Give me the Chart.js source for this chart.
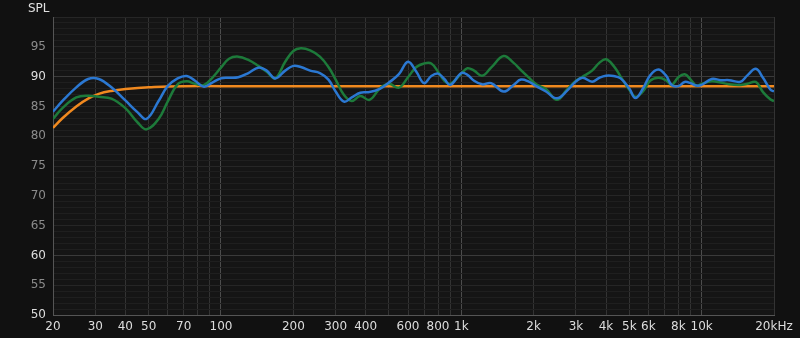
<!DOCTYPE html>
<html>
<head>
<meta charset="utf-8">
<script src="https://cdn.jsdelivr.net/npm/chart.js@4.4.1/dist/chart.umd.min.js"></script>
<style>
  html, body { margin: 0; padding: 0; background: #111111; }
  #wrap { width: 800px; height: 338px; position: relative; }
</style>
</head>
<body>
<div id="wrap"><canvas id="c" width="800" height="338"></canvas></div>
<script>
// ---- Data ----
const freqs = [20, 22, 25, 28, 31, 35, 40, 45, 49, 55, 60, 66, 72, 78, 85, 92, 100, 108, 118, 130, 143, 155, 168, 185, 200, 215, 235, 258, 280, 300, 325, 350, 380, 415, 460, 500, 550, 600, 650, 700, 750, 800, 850, 900, 1000, 1060, 1130, 1220, 1330, 1500, 1650, 1770, 1900, 2050, 2250, 2500, 2750, 3000, 3200, 3500, 3750, 4000, 4300, 4600, 5000, 5300, 5700, 6100, 6600, 7100, 7500, 8000, 8500, 9000, 9500, 10000, 11000, 12000, 13000, 14500, 15500, 16800, 18000, 19300, 20000];

const blueSPL = [84.1, 86.0, 88.2, 89.6, 89.6, 88.2, 86.0, 84.0, 82.9, 85.9, 88.4, 89.7, 90.1, 89.3, 88.3, 89.0, 89.7, 89.8, 89.9, 90.6, 91.5, 91.0, 89.7, 91.0, 91.8, 91.6, 91.0, 90.6, 89.5, 87.5, 85.8, 86.5, 87.3, 87.4, 88.0, 89.0, 90.4, 92.5, 90.8, 88.9, 90.1, 90.5, 89.6, 88.6, 90.6, 90.3, 89.3, 88.7, 88.9, 87.5, 88.6, 89.5, 89.2, 88.4, 87.5, 86.35, 87.6, 89.2, 89.8, 89.15, 89.8, 90.15, 90.1, 89.7, 88.0, 86.4, 88.0, 90.2, 91.2, 90.2, 88.6, 88.4, 89.1, 88.9, 88.5, 88.6, 89.6, 89.4, 89.4, 89.15, 90.2, 91.3, 89.8, 87.85, 87.5];

const greenSPL = [82.9, 84.8, 86.5, 86.8, 86.6, 86.3, 84.7, 82.3, 81.15, 82.9, 85.8, 88.7, 89.2, 88.8, 88.6, 89.8, 91.5, 93.0, 93.35, 92.8, 91.8, 90.8, 89.7, 92.5, 94.3, 94.75, 94.4, 93.35, 91.6, 89.5, 86.9, 85.9, 86.75, 86.1, 88.1, 88.8, 88.15, 89.9, 91.6, 92.2, 92.2, 90.8, 89.3, 88.8, 90.5, 91.4, 91.0, 90.15, 91.5, 93.45, 92.3, 91.1, 89.9, 88.7, 87.9, 86.1, 87.8, 89.3, 90.0, 91.0, 92.3, 92.9, 91.8, 90.0, 87.8, 86.6, 87.5, 89.3, 89.8, 89.4, 88.6, 89.9, 90.4, 89.5, 88.5, 88.8, 89.2, 89.0, 88.7, 88.6, 88.8, 89.1, 87.4, 86.2, 85.9];

const targetFreqs = [20, 22, 25, 28, 31, 35, 40, 45, 50, 60, 70, 100, 1000, 10000, 20000];
const targetSPL = [81.4, 83.1, 85.0, 86.3, 87.1, 87.6, 87.9, 88.1, 88.2, 88.35, 88.4, 88.4, 88.4, 88.4, 88.4];

const xTickValues = [20, 30, 40, 50, 60, 70, 80, 90, 100, 200, 300, 400, 500, 600, 700, 800, 900, 1000, 2000, 3000, 4000, 5000, 6000, 7000, 8000, 9000, 10000, 20000];
const xTickLabels = {20: '20', 30: '30', 40: '40', 50: '50', 70: '70', 100: '100', 200: '200', 300: '300', 400: '400', 600: '600', 800: '800', 1000: '1k', 2000: '2k', 3000: '3k', 4000: '4k', 5000: '5k', 6000: '6k', 8000: '8k', 10000: '10k', 20000: '20kHz'};
const yTickLabels = [50, 55, 60, 65, 70, 75, 80, 85, 90, 95];

function pts(xs, ys) { return xs.map((f, i) => ({ x: f, y: ys[i] })); }

const bgPlugin = {
  id: 'bg',
  beforeDraw(chart) {
    const { ctx, chartArea: a } = chart;
    ctx.save();
    ctx.fillStyle = '#151515';
    ctx.fillRect(a.left, a.top, a.right - a.left, a.bottom - a.top);
    ctx.restore();
  },
  afterDraw(chart) {
    const { ctx } = chart;
    ctx.save();
    ctx.fillStyle = '#e0e0e0';
    ctx.font = '12px "DejaVu Sans", sans-serif';
    ctx.textBaseline = 'middle';
    ctx.textAlign = 'left';
    ctx.fillText('SPL', 28, 9);
    ctx.restore();
  }
};

new Chart(document.getElementById('c'), {
  type: 'line',
  data: {
    datasets: [
      { label: 'Target', data: pts(targetFreqs, targetSPL), borderColor: '#f0891f', borderWidth: 2.5, pointRadius: 0, tension: 0.4, order: 3 },
      { label: 'Measurement B', data: pts(freqs, greenSPL), borderColor: '#1d7a3a', borderWidth: 2.5, pointRadius: 0, tension: 0.4, order: 2 },
      { label: 'Measurement A', data: pts(freqs, blueSPL), borderColor: '#2b78d2', borderWidth: 2.5, pointRadius: 0, tension: 0.4, order: 1 }
    ]
  },
  options: {
    responsive: false,
    animation: false,
    events: [],
    layout: { padding: { top: 17, right: 26, left: 0, bottom: 0 } },
    plugins: { legend: { display: false }, tooltip: { enabled: false } },
    scales: {
      x: {
        type: 'logarithmic',
        min: 20, max: 20000,
        afterBuildTicks(scale) { scale.ticks = xTickValues.map(v => ({ value: v })); },
        afterFit(scale) { scale.height = 23; },
        ticks: {
          autoSkip: false, maxRotation: 0, minRotation: 0, padding: 5,
          color: '#dddddd',
          font: { family: '"DejaVu Sans", sans-serif', size: 12 },
          callback(v) { return xTickLabels[v] !== undefined ? xTickLabels[v] : ''; }
        },
        grid: {
          drawTicks: false,
          color(ctx) {
            const v = ctx.tick && ctx.tick.value;
            if (v === 100 || v === 1000 || v === 10000) return '#4c4c4c';
            return '#333333';
          },
          lineWidth: 1
        },
        border: { display: true, color: '#555555', width: 1 }
      },
      y: {
        min: 50, max: 100,
        afterBuildTicks(scale) {
          const t = [];
          for (let v = 50; v <= 100; v++) t.push({ value: v });
          scale.ticks = t;
        },
        afterFit(scale) { scale.width = 53; },
        ticks: {
          autoSkip: false, padding: 7,
          font: { family: '"DejaVu Sans", sans-serif', size: 12 },
          color(ctx) {
            const v = ctx.tick.value;
            return (v === 50 || v === 60 || v === 90) ? '#dddddd' : '#8c8c8c';
          },
          callback(v) { return yTickLabels.includes(v) ? String(v) : ''; }
        },
        grid: {
          drawTicks: false,
          color(ctx) {
            const v = ctx.tick && ctx.tick.value;
            if (v === 60 || v === 90) return '#3a3a3a';
            if (v % 5 === 0) return '#262626';
            return '#1f1f1f';
          },
          lineWidth: 1
        },
        border: { display: true, color: '#555555', width: 1 }
      }
    }
  },
  plugins: [bgPlugin]
});
</script>
</body>
</html>
